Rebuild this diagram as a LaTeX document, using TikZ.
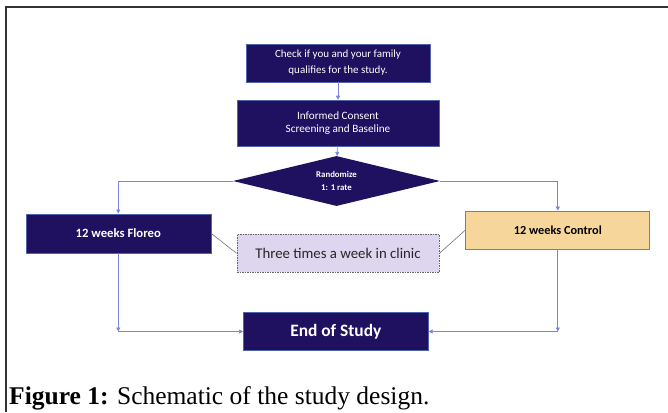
\documentclass[tikz,border=0pt]{standalone}
\usepackage{fontspec}
\setmainfont{Carlito}
\newfontfamily\capfont{Liberation Serif}
\usepackage{tikz}
\usetikzlibrary{positioning,arrows.meta,shapes.geometric,calc}
\usepackage{xcolor}
\definecolor{navy}{RGB}{31,16,96}
\definecolor{navyedge}{RGB}{80,100,170}
\definecolor{linkblue}{RGB}{120,132,222}
\definecolor{peach}{RGB}{247,214,156}
\definecolor{lavender}{RGB}{221,214,238}

\begin{document}
\begin{tikzpicture}[x=1pt,y=-1pt,
  box/.style={rectangle,draw=navyedge,fill=navy,text=white,line width=0.6pt,
    align=center,inner sep=0pt},
  ctrl/.style={rectangle,draw=black!50,fill=peach,text=black,line width=0.8pt,
    align=center,inner sep=0pt},
  note/.style={rectangle,draw=black!60,fill=lavender,text=black!85,dashed,
    dash pattern=on 1.5pt off 1pt,line width=0.9pt,inner sep=0pt},
  decide/.style={diamond,fill=navy,text=white,aspect=4,inner sep=0pt,
    align=center,minimum width=207pt,minimum height=50pt},
  link/.style={-{Triangle[length=4pt,width=4pt]},linkblue,line width=0.7pt},
  tie/.style={black!55,line width=0.6pt},
  frame/.style={black!80,line width=2pt}
]
\useasboundingbox (0,0) rectangle (668,412);
\draw[frame] (5.5,412) -- (5.5,7.5) -- (668,7.5);

\node[box,minimum width=184pt,minimum height=38pt,font=\fontsize{11}{16}\selectfont] (check) at (338,63)
  {Check if you and your family\\qualifies for the study.};
\node[box,minimum width=202pt,minimum height=46pt,font=\fontsize{11.2}{13.7}\selectfont] (consent) at (338,123)
  {Informed Consent\\Screening and Baseline};
\node[decide,font=\fontsize{8.8}{13}\selectfont\bfseries] (rand) at (336.5,181)
  {Randomize\\1: 1 rate};
\node[box,minimum width=185pt,minimum height=39pt,font=\fontsize{12.7}{15}\selectfont\bfseries] (floreo) at (118.3,233.3)
  {12 weeks Floreo};
\node[ctrl,minimum width=184pt,minimum height=38pt,font=\fontsize{12.3}{15}\selectfont\bfseries] (control) at (557.8,230)
  {12 weeks Control};
\node[note,minimum width=202pt,minimum height=38pt,font=\fontsize{14.8}{17}\selectfont] (clinic) at (338,253.3)
  {Three times a week in clinic};
\node[box,minimum width=185pt,minimum height=38pt,font=\fontsize{17.4}{20}\selectfont\bfseries] (endst) at (335.8,331.5)
  {End of Study};

\coordinate (fdown) at (floreo |- endst);
\coordinate (cdown) at (control |- endst);

\draw[link] (check) -- (consent);
\draw[link] (consent) -- (rand);
\draw[link] (rand.west) -| (floreo.north);
\draw[link] (rand.east) -| (control.north);
\draw[tie] (floreo.east) -- (clinic.west);
\draw[tie] (control.west) -- (clinic.east);
\draw[link] (floreo) -- (fdown);
\draw[link] (fdown) -- (endst.west);
\draw[link] (control) -- (cdown);
\draw[link] (cdown) -- (endst.east);

\node[anchor=base west,inner sep=0pt,font=\capfont\fontsize{25.5}{28}\selectfont] (caption) at (9,404)
  {\textbf{Figure 1:} Schematic of the study design.};
\end{tikzpicture}
\end{document}
